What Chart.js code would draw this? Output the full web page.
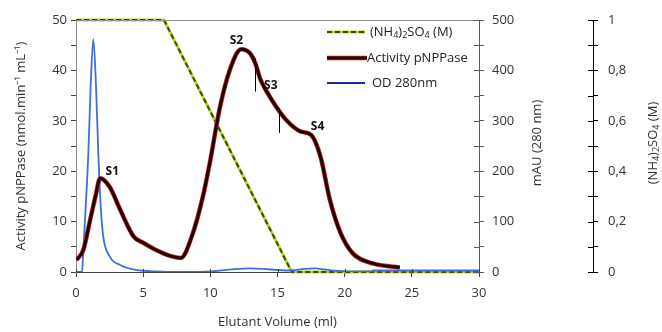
<!DOCTYPE html>
<html>
<head>
<meta charset="utf-8">
<script src="https://cdn.jsdelivr.net/npm/chart.js@4.4.0/dist/chart.umd.min.js"></script>
<style>
html,body{margin:0;padding:0;background:#fff;}
</style>
</head>
<body>
<canvas id="myChart" width="662" height="332"></canvas>
<script>
// activity pNPPase (nmol.min-1 mL-1) vs elutant volume (ml)
const activityVol = [0.05, 0.55, 1.05, 1.45, 1.8, 2.5, 3.3, 4.3, 5.0, 6.0, 7.0, 7.8, 8.7, 9.5, 10.0, 10.7, 11.45, 12.3, 12.95, 13.35, 13.7, 14.2, 14.9, 15.7, 16.7, 17.5, 18.2, 18.9, 19.7, 20.6, 22.1, 24.1];
const activityVal = [2.4, 4.4, 10.3, 15.0, 18.6, 16.9, 12.3, 7.0, 5.8, 4.3, 3.2, 2.8, 7.7, 15.6, 22.2, 32.5, 40.1, 44.2, 43.4, 41.4, 38.4, 35.8, 32.8, 30.0, 27.9, 27.2, 22.9, 14.3, 7.7, 3.7, 1.7, 0.9];

// OD 280nm (mAU)
const odVol = [0, 0.45, 0.52, 0.67, 0.92, 1.09, 1.29, 1.49, 1.66, 1.84, 2.03, 2.53, 3.28, 4.5, 6, 8, 10, 12, 13, 14, 15, 16, 17, 17.8, 18.5, 19.5, 21, 22, 22.1, 25, 30];
const odVal = [0, 0, 30, 103, 236, 368, 462, 368, 236, 130, 70, 30, 14, 4, 1, 0, 1, 6, 7, 6, 4, 3, 6, 7, 5, 2, 1, 1, 3, 3, 3];

// (NH4)2SO4 gradient (M)
const saltVol = [0, 6.55, 16.06, 30];
const saltVal = [1, 1, 0, 0];

// peak names
const peakNames = ['S1', 'S2', 'S3', 'S4'];
const peakVol = [2.7, 11.94, 14.5, 17.98];
const peakLevel = [19.9, 45.9, 37.0, 28.8];

// fraction cuts
const cutVol = [13.33, 15.1];
const cutLow = [35.8, 27.6];
const cutHigh = [42.4, 32.5];

const toPoints = (xs, ys) => xs.map((v, i) => ({x: v, y: ys[i]}));

const FONT = '"Open Sans", sans-serif';
const TXT = '#333';

function richText(ctx, parts, x, y, size, align) {
    const big = size + 'px ' + FONT;
    const small = Math.round(size * 0.72) + 'px ' + FONT;
    let w = 0;
    parts.forEach(p => { ctx.font = p[1] ? small : big; w += ctx.measureText(p[0]).width; });
    let cx = align === 'center' ? x - w / 2 : x;
    ctx.textAlign = 'left';
    ctx.textBaseline = 'middle';
    parts.forEach(p => {
        ctx.font = p[1] ? small : big;
        ctx.fillText(p[0], cx, y + (p[1] ? size * 0.3 : 0));
        cx += ctx.measureText(p[0]).width;
    });
}

const saltLabel = [['(NH', 0], ['4', 1], [')', 0], ['2', 1], ['SO', 0], ['4', 1], [' (M)', 0]];

const extras = {
    id: 'extras',
    afterDatasetsDraw(chart) {
        const ctx = chart.ctx;
        const xs = chart.scales.x, ys = chart.scales.y;
        ctx.save();
        // cuts
        ctx.strokeStyle = '#000';
        ctx.lineWidth = 1;
        cutVol.forEach((v, i) => {
            const px = Math.round(xs.getPixelForValue(v)) + 0.5;
            ctx.beginPath();
            ctx.moveTo(px, ys.getPixelForValue(cutHigh[i]));
            ctx.lineTo(px, ys.getPixelForValue(cutLow[i]));
            ctx.stroke();
        });
        // peak names
        ctx.fillStyle = '#111';
        ctx.font = 'bold 12px ' + FONT;
        ctx.textAlign = 'center';
        ctx.textBaseline = 'middle';
        peakNames.forEach((n, i) => {
            ctx.fillText(n, xs.getPixelForValue(peakVol[i]), ys.getPixelForValue(peakLevel[i]));
        });
        ctx.restore();
    },
    afterDraw(chart) {
        const ctx = chart.ctx;
        const area = chart.chartArea;
        ctx.save();
        // top frame
        ctx.strokeStyle = '#8c8c8c';
        ctx.lineWidth = 1;
        ctx.beginPath();
        ctx.moveTo(area.left, area.top + 0.5);
        ctx.lineTo(area.right, area.top + 0.5);
        ctx.stroke();

        // inner half of the crossing ticks on the right axes
        [['y1', '#595959'], ['y2', '#000']].forEach(([id, col]) => {
            const s = chart.scales[id];
            ctx.strokeStyle = col;
            s.ticks.forEach(t => {
                const py = Math.round(s.getPixelForValue(t.value)) + 0.5;
                ctx.beginPath();
                ctx.moveTo(s.left - 5, py);
                ctx.lineTo(s.left, py);
                ctx.stroke();
            });
        });
        const sx = chart.scales.x;
        ctx.strokeStyle = '#404040';
        sx.ticks.forEach(t => {
            const px = Math.round(sx.getPixelForValue(t.value)) + 0.5;
            ctx.beginPath();
            ctx.moveTo(px, sx.top - 3);
            ctx.lineTo(px, sx.top);
            ctx.stroke();
        });

        // right axis titles
        ctx.fillStyle = TXT;
        const cy = (area.top + area.bottom) / 2 - 3;
        ctx.save();
        ctx.translate(537, cy);
        ctx.rotate(-Math.PI / 2);
        ctx.font = '13px ' + FONT;
        ctx.textAlign = 'center';
        ctx.textBaseline = 'middle';
        ctx.fillText('mAU (280 nm)', 0, 0);
        ctx.restore();
        ctx.save();
        ctx.translate(653, cy);
        ctx.rotate(-Math.PI / 2);
        richText(ctx, saltLabel, 0, 0, 13, 'center');
        ctx.restore();

        // legend
        const lx0 = 327, lx1 = 367, tx = 370;
        const rows = [32, 58, 83];
        ctx.lineCap = 'butt';
        ctx.strokeStyle = '#b8d430';
        ctx.lineWidth = 3;
        ctx.beginPath(); ctx.moveTo(lx0, rows[0]); ctx.lineTo(lx1 - 2, rows[0]); ctx.stroke();
        ctx.strokeStyle = '#3b4a12';
        ctx.lineWidth = 2;
        ctx.setLineDash([5, 3]);
        ctx.beginPath(); ctx.moveTo(lx0, rows[0]); ctx.lineTo(lx1 - 2, rows[0]); ctx.stroke();
        ctx.setLineDash([]);
        ctx.strokeStyle = '#d42020';
        ctx.lineWidth = 4.5;
        ctx.beginPath(); ctx.moveTo(lx0, rows[1]); ctx.lineTo(lx1, rows[1]); ctx.stroke();
        ctx.strokeStyle = '#1a0505';
        ctx.lineWidth = 3;
        ctx.beginPath(); ctx.moveTo(lx0, rows[1]); ctx.lineTo(lx1, rows[1]); ctx.stroke();
        ctx.strokeStyle = '#1e2a9c';
        ctx.lineWidth = 2;
        ctx.beginPath(); ctx.moveTo(lx0, rows[2]); ctx.lineTo(lx1 - 2, rows[2]); ctx.stroke();

        ctx.fillStyle = '#222';
        richText(ctx, saltLabel, tx, rows[0], 13, 'left');
        ctx.font = '13px ' + FONT;
        ctx.textAlign = 'left';
        ctx.textBaseline = 'middle';
        ctx.fillText('Activity pNPPase', tx - 3, rows[1]);
        ctx.fillText('OD 280nm', tx + 2, rows[2]);
        ctx.restore();
    }
};

const tickFont = {family: FONT, size: 13};
const titleFont = {family: FONT, size: 13};

const config = {
    type: 'line',
    data: {
        datasets: [
            {
                label: 'Activity pNPPase',
                data: toPoints(activityVol, activityVal),
                yAxisID: 'y',
                borderColor: '#1a0505',
                borderWidth: 3,
                cubicInterpolationMode: 'monotone',
                pointRadius: 0,
                order: 1
            },
            {
                label: 'activity edge',
                data: toPoints(activityVol, activityVal),
                yAxisID: 'y',
                borderColor: '#d42020',
                borderWidth: 4.5,
                cubicInterpolationMode: 'monotone',
                pointRadius: 0,
                order: 2
            },
            {
                label: 'OD 280nm',
                data: toPoints(odVol, odVal),
                yAxisID: 'y1',
                borderColor: '#3f6fdc',
                borderWidth: 1.8,
                cubicInterpolationMode: 'monotone',
                pointRadius: 0,
                order: 4
            },
            {
                label: '(NH4)2SO4 (M)',
                data: toPoints(saltVol, saltVal),
                yAxisID: 'y2',
                borderColor: '#3b4a12',
                borderWidth: 2,
                borderDash: [5, 3],
                tension: 0,
                pointRadius: 0,
                clip: 6,
                order: 5
            },
            {
                label: 'salt edge',
                data: toPoints(saltVol, saltVal),
                yAxisID: 'y2',
                borderColor: '#b8d430',
                borderWidth: 3,
                tension: 0,
                pointRadius: 0,
                clip: 6,
                order: 6
            }
        ]
    },
    options: {
        responsive: false,
        animation: false,
        layout: {padding: {top: 20, right: 0, bottom: 0, left: 0}},
        plugins: {
            legend: {display: false},
            tooltip: {enabled: false}
        },
        scales: {
            x: {
                type: 'linear',
                min: 0,
                max: 30,
                afterFit: s => { s.height = 60; },
                ticks: {stepSize: 5, color: TXT, font: tickFont, padding: 8, maxRotation: 0},
                grid: {drawOnChartArea: false, tickLength: 5, color: '#404040'},
                border: {color: '#404040'},
                title: {display: true, text: 'Elutant Volume (ml)', color: TXT, font: titleFont, padding: {top: 0, bottom: 2}}
            },
            y: {
                position: 'left',
                min: 0,
                max: 50,
                afterFit: s => { s.width = 76; },
                ticks: {stepSize: 5, color: TXT, font: tickFont, padding: 4, callback: v => (v % 10 === 0 ? v : '')},
                grid: {drawOnChartArea: false, tickLength: 5, color: '#404040'},
                border: {color: '#8c8c8c'},
                title: {display: true, text: 'Activity pNPPase (nmol.min⁻¹ mL⁻¹)', color: TXT, font: titleFont, padding: {top: 13, bottom: 0}}
            },
            y1: {
                position: 'right',
                weight: 0,
                min: 0,
                max: 500,
                afterFit: s => { s.width = 114; },
                ticks: {stepSize: 50, color: TXT, font: tickFont, padding: 8, callback: v => (v % 100 === 0 ? v : '')},
                grid: {drawOnChartArea: false, tickLength: 5, color: '#595959'},
                border: {color: '#595959'}
            },
            y2: {
                position: 'right',
                weight: 1,
                min: 0,
                max: 1,
                afterFit: s => { s.width = 69; },
                ticks: {stepSize: 0.1, color: TXT, font: tickFont, padding: 10, callback: v => {
                    const k = Math.round(v * 10);
                    if (k % 2 !== 0) return '';
                    return k === 10 ? '1' : k === 0 ? '0' : '0,' + k;
                }},
                grid: {drawOnChartArea: false, tickLength: 5, color: '#000'},
                border: {color: '#000'}
            }
        }
    },
    plugins: [extras]
};

const myChart = new Chart(document.getElementById('myChart'), config);
</script>
</body>
</html>
